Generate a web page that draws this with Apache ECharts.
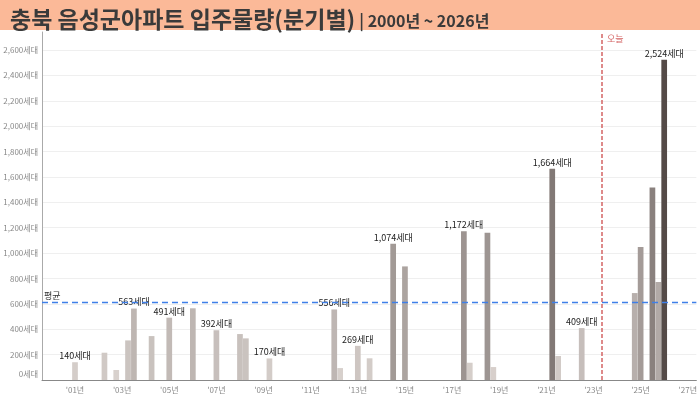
<!DOCTYPE html>
<html>
<head>
<meta charset="utf-8">
<script src="https://cdn.jsdelivr.net/npm/echarts@6/dist/echarts.min.js"></script>
<style>
html,body{margin:0;padding:0;background:#fff;}
#chart{width:700px;height:397px;}
</style>
</head>
<body>
<div id="chart"></div>
<script>
// ---- data ----
const years    = [2001,2002,2002,2003,2003,2004,2005,2006,2007,2008,2008,2009,2012,2012,2013,2013,2014,2015,2017,2017,2018,2018,2021,2021,2022,2024,2025,2025,2025,2026];
const quarters = [1,   2,   4,   2,   3,   2,   1,   1,   1,   1,   2,   2,   1,   2,   1,   3,   3,   1,   3,   4,   3,   4,   2,   3,   3,   4,   1,   3,   4,   1];
const values   = [140, 215, 79,  312, 563, 346, 491, 565, 392, 362, 328, 170, 556, 94,  269, 171, 1074,895, 1172,136, 1160,102, 1664,189, 409, 685, 1047,1517,772, 2524];
const labeled  = [1,   0,   0,   0,   1,   0,   1,   0,   1,   0,   0,   1,   1,   0,   1,   0,   1,   0,   1,   0,   0,   0,   1,   0,   1,   0,   0,   0,   0,   1];
const xTickYears = [2001,2003,2005,2007,2009,2011,2013,2015,2017,2019,2021,2023,2025,2027];
const todayValue = 2023.33;
const titleMain = '충북 음성군아파트 입주물량(분기별)';
const titleSub = '| 2000년 ~ 2026년';

const FONT = 'Noto Sans CJK KR';
const fmt = v => Number(v).toLocaleString('en-US');

const barData = years.map((y, i) => ({
  value: [y + (quarters[i] - 1) / 4, values[i]],
  label: { show: !!labeled[i] }
}));

const chart = echarts.init(document.getElementById('chart'), null, {renderer: 'canvas'});
chart.setOption({
  animation: false,
  backgroundColor: '#fff',
  textStyle: { fontFamily: FONT },
  graphic: [{
    type: 'rect', left: 0, top: 0, z: -1,
    shape: { width: 700, height: 30 },
    style: { fill: '#fbb998' }
  }],
  title: {
    left: 5, top: 0,
    text: '{a|' + titleMain + '} {b|' + titleSub + '}',
    textStyle: {
      rich: {
        a: { fontFamily: FONT, fontSize: 23, fontWeight: 'bold', color: '#3a3a3a', lineHeight: 29 },
        b: { fontFamily: FONT, fontSize: 16, fontWeight: 'bold', color: '#3a3a3a', lineHeight: 29, padding: [3, 0, 0, 0] }
      }
    }
  },
  grid: { left: 42, right: 0, top: 32, bottom: 17, containLabel: false },
  visualMap: {
    show: false, type: 'continuous', dimension: 1, min: 0, max: 2524, seriesIndex: 0,
    inRange: { color: ['#dcd5d1', '#544a47'] }
  },
  xAxis: {
    type: 'value', min: 1999.6, max: 2027.364,
    axisLine: { show: true, lineStyle: { color: '#888', width: 1 } },
    axisTick: { show: false },
    splitLine: { show: false },
    axisLabel: {
      customValues: xTickYears,
      formatter: v => "'" + String(Math.round(v)).slice(2) + '년',
      color: '#888', fontSize: 8, margin: 6, fontFamily: FONT
    }
  },
  yAxis: {
    type: 'value', min: 0, max: 2742, interval: 200,
    axisLine: { show: true, lineStyle: { color: '#aaa', width: 1 } },
    axisTick: { show: false },
    splitLine: { show: true, showMaxLine: false, lineStyle: { color: '#efefef', width: 1 } },
    axisLabel: {
      showMaxLabel: false,
      color: '#888', fontSize: 8, margin: 4, fontFamily: FONT,
      formatter: v => v === 0 ? '{z|0세대}' : fmt(v) + '세대',
      rich: { z: { fontSize: 8, color: '#888', padding: [0, 0, 13, 0], fontFamily: FONT } }
    }
  },
  series: [{
    type: 'bar',
    data: barData,
    barWidth: 5.7,
    label: {
      show: false, position: 'top', distance: 2,
      formatter: p => fmt(p.value[1]) + '세대',
      fontSize: 9, color: '#222', fontFamily: FONT
    },
    markLine: {
      silent: true,
      symbol: ['none', 'none'],
      data: [
        {
          type: 'average', valueDim: 'y', name: '평균',
          lineStyle: { color: '#3f7fe8', type: [6, 4], width: 1.3 },
          label: { show: true, position: 'insideStartTop', formatter: '평균', color: '#333', fontSize: 9, distance: [2, 2], fontFamily: FONT }
        },
        {
          xAxis: todayValue, name: '오늘',
          lineStyle: { color: '#d46464', type: [4, 2], width: 1.5 },
          label: { show: true, position: 'end', formatter: '오늘', color: '#d46464', fontSize: 9, offset: [14, 16], fontFamily: FONT }
        }
      ]
    }
  }]
});
</script>
</body>
</html>
